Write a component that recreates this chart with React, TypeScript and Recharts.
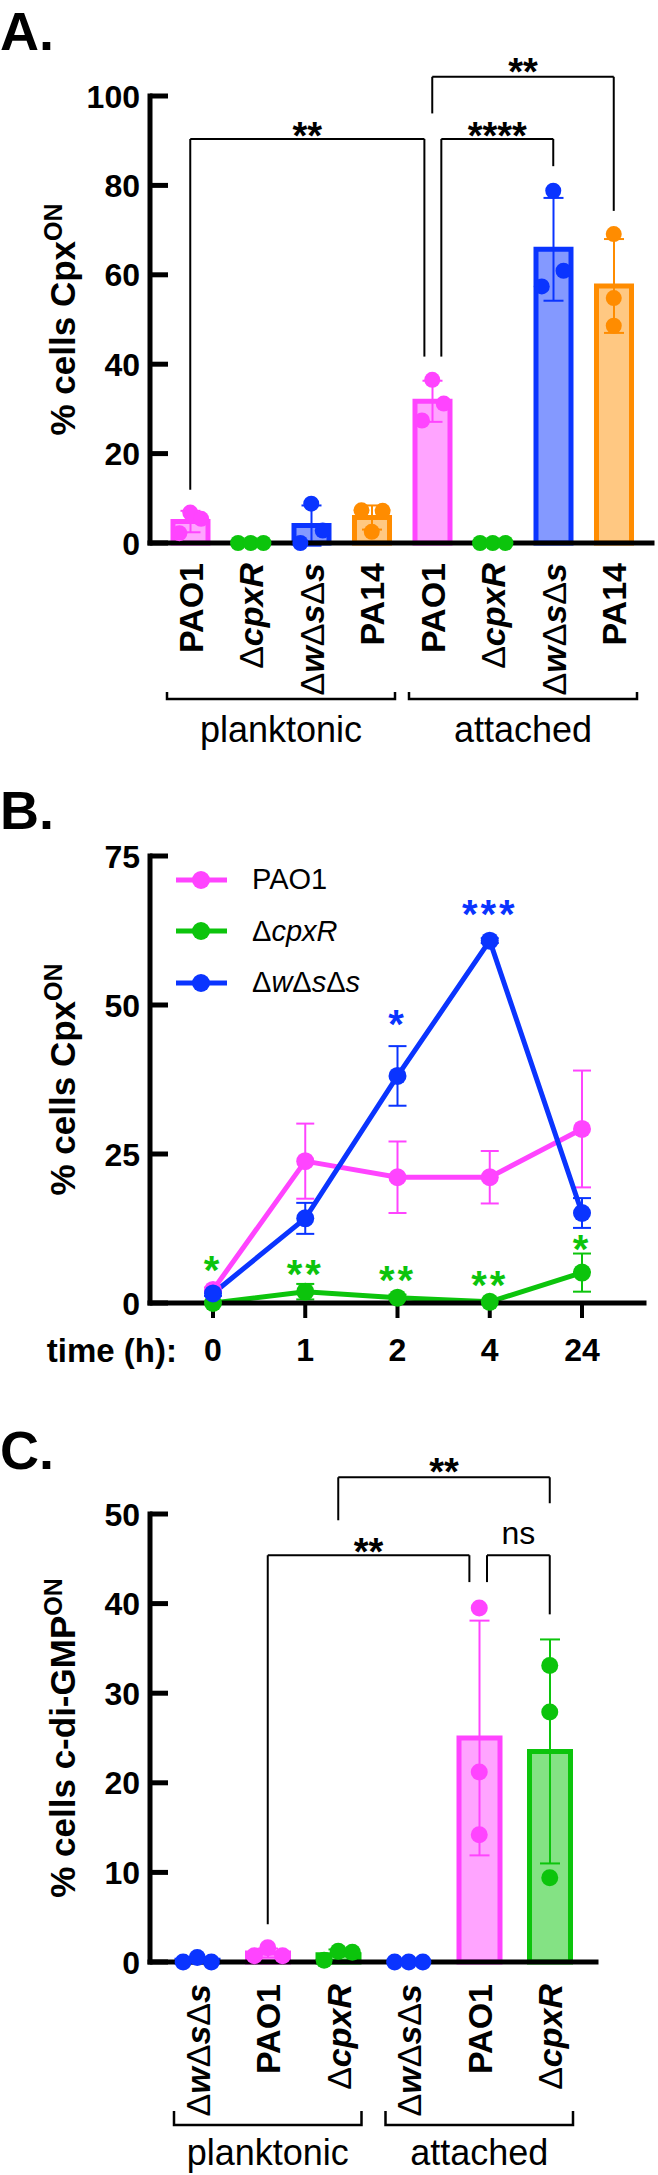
import React from "react";
import {
  ComposedChart,
  LineChart,
  Bar,
  Line,
  Scatter,
  XAxis,
  YAxis,
  ErrorBar,
  ReferenceLine,
  ReferenceDot,
  Legend,
} from "recharts";

const FONT = "'Liberation Sans', Arial, Helvetica, sans-serif";

const PINK = "#ff44ff";
const PINK_FILL = "#ffa4ff";
const GREEN = "#0cc40c";
const GREEN_FILL = "#84e284";
const BLUE = "#0a34ff";
const BLUE_FILL = "#8499ff";
const ORANGE = "#ff8c00";
const ORANGE_FILL = "#ffc882";

// ---------- A: Cpx-ON cells, planktonic vs attached ----------
const strainsA = ["PAO1", "ΔcpxR", "ΔwΔsΔs", "PA14", "PAO1", "ΔcpxR", "ΔwΔsΔs", "PA14"];
const groupsA = ["planktonic", "planktonic", "planktonic", "planktonic", "attached", "attached", "attached", "attached"];
const meanA = [4.8, 0, 3.9, 5.7, 31.7, 0, 65.7, 57.5];
const sdA = [2.4, 0, 4.5, 2.7, 4.6, 0, 11.5, 10.5];
const repsA = [
  [6.8, 5.4, 2.2],
  [0, 0, 0],
  [8.8, 2.8, 0],
  [7.3, 7.2, 2.5],
  [36.5, 31.2, 27.4],
  [0, 0, 0],
  [78.8, 60.9, 57.4],
  [69.1, 54.8, 48.6],
];
const ticksA = [0, 20, 40, 60, 80, 100];

// ---------- B: time course ----------
const timesB = ["0", "1", "2", "4", "24"];
const pao1B = [2.2, 23.8, 21.1, 21.1, 29.2];
const pao1SdB = [0.4, 6.3, 6.0, 4.4, 9.8];
const cpxRB = [0, 1.9, 0.9, 0.2, 5.1];
const cpxRSdB = [0, 1.3, 0.5, 0.2, 3.2];
const wssB = [1.6, 14.2, 38.1, 60.8, 15.1];
const wssSdB = [0.4, 2.6, 5.0, 0.4, 2.5];
const starsCpxRB = ["*", "**", "**", "**", "*"];
const starsWssB = ["", "", "*", "***", ""];
const ticksB = [0, 25, 50, 75];

// ---------- C: c-di-GMP-ON cells ----------
const strainsC = ["ΔwΔsΔs", "PAO1", "ΔcpxR", "ΔwΔsΔs", "PAO1", "ΔcpxR"];
const groupsC = ["planktonic", "planktonic", "planktonic", "attached", "attached", "attached"];
const meanC = [0.2, 1.0, 0.8, 0, 25.0, 23.5];
const sdC = [0.3, 0.5, 0.6, 0, 13.1, 12.5];
const repsC = [
  [0, 0.5, 0],
  [0.7, 1.6, 0.7],
  [0.2, 1.2, 1.1],
  [0, 0, 0],
  [39.5, 21.2, 14.2],
  [33.1, 27.9, 9.4],
];
const ticksC = [0, 10, 20, 30, 40, 50];

// where replicate dots sit inside their column (fraction of a column)
const spreadA = [
  [0, 0.18, -0.18],
  [-0.21, 0, 0.21],
  [0, 0.19, -0.18],
  [-0.17, 0.18, 0],
  [0, 0.19, -0.17],
  [-0.21, 0, 0.21],
  [0, 0.17, -0.19],
  [0, 0, 0],
];
const spreadC = [
  [-0.2, 0, 0.2],
  [-0.19, 0, 0.21],
  [-0.2, 0, 0.2],
  [-0.2, 0, 0.2],
  [0, 0, 0],
  [0, 0, 0],
];

// comparison brackets: column positions, bar-top level and leg ends (axis units)
const bracketsA = [
  { from: 0, to: 3.87, top: 90.4, fromEnd: 11.9, toEnd: 41.7, text: "**", lift: 12 },
  { from: 4.15, to: 6, top: 90.4, fromEnd: 41.7, toEnd: 84.3, text: "****", lift: 12 },
  { from: 4, to: 7, top: 104.3, fromEnd: 96.1, toEnd: 74.3, text: "**", lift: 13 },
];
const bracketsC = [
  { from: 1, to: 3.86, top: 45.4, fromEnd: 4.2, toEnd: 42.4, text: "**", lift: 12 },
  { from: 4.11, to: 5, top: 45.4, fromEnd: 42.4, toEnd: 38.8, text: "ns", lift: 20 },
  { from: 2, to: 5, top: 54.1, fromEnd: 49.3, toEnd: 51.2, text: "**", lift: 14 },
];
// height of the significance stars above each time point (axis units)
const starLevelCpxRB = [7.0, 6.4, 5.4, 4.5, 10.6];
const starLevelWssB = [0, 0, 48.3, 66.8, 0];

const strainStyle: Record<string, { key: string; stroke: string; fill: string }> = {
  PAO1: { key: "pao1", stroke: PINK, fill: PINK_FILL },
  "ΔcpxR": { key: "cpxR", stroke: GREEN, fill: GREEN_FILL },
  "ΔwΔsΔs": { key: "wss", stroke: BLUE, fill: BLUE_FILL },
  PA14: { key: "pa14", stroke: ORANGE, fill: ORANGE_FILL },
};

function barRows(strains: string[], groups: string[], mean: number[], sd: number[]) {
  return strains.map((s, i) => {
    const k = strainStyle[s].key;
    return { cat: String(i), group: groups[i], [k]: mean[i], [k + "Sd"]: sd[i] };
  });
}

function dotRows(strains: string[], reps: number[][], spread: number[][], strain: string) {
  const out: { x: number; y: number }[] = [];
  strains.forEach((s, i) => {
    if (s !== strain) return;
    reps[i].forEach((v, j) => out.push({ x: i + spread[i][j], y: v }));
  });
  return out;
}

function uniq(list: string[]) {
  return list.filter((s, i) => list.indexOf(s) === i);
}

// Δ upright, gene letters in italics
function strainSvg(name: string) {
  if (!name.startsWith("Δ")) return name;
  return name
    .split(/(Δ)/)
    .filter(Boolean)
    .map((p, i) =>
      p === "Δ" ? (
        <tspan key={i} fontWeight={400}>Δ</tspan>
      ) : (
        <tspan key={i} fontStyle="italic">{p}</tspan>
      )
    );
}

function strainHtml(name: string) {
  if (!name.startsWith("Δ")) return name;
  return name
    .split(/(Δ)/)
    .filter(Boolean)
    .map((p, i) => (p === "Δ" ? <span key={i}>Δ</span> : <i key={i}>{p}</i>));
}

// ticks point inwards, labels sit left of the axis line
const YTick = ({ x, y, payload, gap }: any) => (
  <g>
    <line x1={x + gap} x2={x + gap + 18} y1={y} y2={y} stroke="#000" strokeWidth={5} />
    <text x={x} y={y} dy="0.36em" textAnchor="end" fontFamily={FONT} fontWeight={700} fontSize={32} fill="#000">
      {payload.value}
    </text>
  </g>
);

const StrainTick = ({ x, y, payload, names, drop }: any) => (
  <text
    transform={`translate(${x},${y + drop}) rotate(-90)`}
    textAnchor="end"
    dy="0.36em"
    fontFamily={FONT}
    fontWeight={700}
    fontSize={34}
    fill="#000"
  >
    {strainSvg(names[Number(payload.value)])}
  </text>
);

const GroupTick = ({ x, y, payload, half, endTop, endBottom, textY }: any) => (
  <g>
    <path
      d={`M${x - half},${y + endTop} V${y + endBottom} H${x + half} V${y + endTop}`}
      fill="none"
      stroke="#000"
      strokeWidth={2.5}
    />
    <text x={x} y={y + textY} textAnchor="middle" fontFamily={FONT} fontSize={36} fill="#000">
      {payload.value}
    </text>
  </g>
);

const AxisTitle = ({ viewBox, x, main, sup }: any) => {
  const cy = viewBox.y + viewBox.height / 2;
  return (
    <text
      transform={`translate(${x},${cy}) rotate(-90)`}
      textAnchor="middle"
      fontFamily={FONT}
      fontWeight={700}
      fontSize={35}
      fill="#000"
    >
      {main}
      <tspan fontSize={25} dy={-13}>{sup}</tspan>
    </text>
  );
};

const Mark = ({ cx, cy, text, color, size, lift, spacing = 0 }: any) => {
  const stars = text.startsWith("*");
  return (
    <text
      x={cx}
      y={cy - lift}
      dy={stars ? "0.57em" : "0.26em"}
      textAnchor="middle"
      fontFamily={FONT}
      fontWeight={stars ? 700 : 400}
      fontSize={size}
      letterSpacing={spacing}
      fill={color}
    >
      {text}
    </text>
  );
};

function bracketElements(list: typeof bracketsA, prefix: string) {
  const line = { stroke: "#000", strokeWidth: 2, xAxisId: "num", ifOverflow: "visible" as const };
  return list.flatMap((b, i) => [
    <ReferenceLine key={`${prefix}h${i}`} {...line} segment={[{ x: b.from, y: b.top }, { x: b.to, y: b.top }]} />,
    <ReferenceLine key={`${prefix}l${i}`} {...line} segment={[{ x: b.from, y: b.top }, { x: b.from, y: b.fromEnd }]} />,
    <ReferenceLine key={`${prefix}r${i}`} {...line} segment={[{ x: b.to, y: b.top }, { x: b.to, y: b.toEnd }]} />,
    <ReferenceDot
      key={`${prefix}t${i}`}
      xAxisId="num"
      x={(b.from + b.to) / 2}
      y={b.top}
      r={0}
      ifOverflow="visible"
      shape={(p: any) => (
        <Mark cx={p.cx} cy={p.cy} text={b.text} color="#000" size={b.text === "ns" ? 32 : 38} lift={b.lift} />
      )}
    />,
  ]);
}

interface BarPanelProps {
  strains: string[];
  groups: string[];
  mean: number[];
  sd: number[];
  reps: number[][];
  spread: number[][];
  brackets: typeof bracketsA;
  ticks: number[];
  width: number;
  height: number;
  margin: { top: number; right: number; bottom: number; left: number };
  pad: { left: number; right: number };
  barSize: number;
  dotR: number;
  labelDrop: number;
  groupInset: number;
  groupGeom: { endTop: number; endBottom: number; textY: number; height: number };
  title: { x: number; main: string; sup: string };
}

const BarPanel = (p: BarPanelProps) => {
  const rows = barRows(p.strains, p.groups, p.mean, p.sd);
  const present = uniq(p.strains);
  const n = p.strains.length;
  const plotW = p.width - p.margin.left - p.margin.right - 150;
  const band = (plotW - p.pad.left - p.pad.right) / n;
  const perGroup = n / uniq(p.groups).length;
  const half = (band * perGroup) / 2 - p.groupInset;
  const yMax = p.ticks[p.ticks.length - 1];

  return (
    <ComposedChart width={p.width} height={p.height} data={rows} margin={p.margin}>
      <XAxis
        xAxisId="cat"
        dataKey="cat"
        height={145}
        padding={p.pad}
        interval={0}
        axisLine={{ stroke: "#000", strokeWidth: 5, strokeLinecap: "square" }}
        tickLine={false}
        tickSize={0}
        tickMargin={0}
        tick={<StrainTick names={p.strains} drop={p.labelDrop} />}
      />
      <XAxis
        xAxisId="grp"
        dataKey="group"
        allowDuplicatedCategory={false}
        height={p.groupGeom.height}
        padding={p.pad}
        interval={0}
        axisLine={false}
        tickLine={false}
        tickSize={0}
        tickMargin={0}
        tick={<GroupTick half={half} endTop={p.groupGeom.endTop} endBottom={p.groupGeom.endBottom} textY={p.groupGeom.textY} />}
      />
      <XAxis xAxisId="num" type="number" dataKey="x" domain={[-0.5, n - 0.5]} padding={p.pad} allowDataOverflow hide />
      <YAxis
        type="number"
        width={150}
        domain={[0, yMax]}
        ticks={p.ticks}
        interval={0}
        axisLine={{ stroke: "#000", strokeWidth: 5, strokeLinecap: "square" }}
        tickLine={false}
        tickSize={0}
        tickMargin={10}
        tick={<YTick gap={10} />}
        label={<AxisTitle x={p.title.x} main={p.title.main} sup={p.title.sup} />}
      />
      {present.map((s) => {
        const st = strainStyle[s];
        return (
          <Bar
            key={st.key}
            xAxisId="cat"
            dataKey={st.key}
            stackId="cols"
            barSize={p.barSize}
            fill={st.fill}
            stroke={st.stroke}
            strokeWidth={5}
            isAnimationActive={false}
          >
            <ErrorBar dataKey={st.key + "Sd"} width={10} strokeWidth={2} stroke={st.stroke} direction="y" />
          </Bar>
        );
      })}
      {present.map((s) => {
        const st = strainStyle[s];
        return (
          <Scatter
            key={"dots-" + st.key}
            xAxisId="num"
            data={dotRows(p.strains, p.reps, p.spread, s)}
            dataKey="y"
            isAnimationActive={false}
            shape={(d: any) => <circle cx={d.cx} cy={d.cy} r={p.dotR} fill={st.stroke} />}
          />
        );
      })}
      {bracketElements(p.brackets, "b")}
    </ComposedChart>
  );
};

const timeRows = timesB.map((t, i) => ({
  t,
  pao1: pao1B[i],
  pao1Sd: pao1SdB[i],
  cpxR: cpxRB[i],
  cpxRSd: cpxRSdB[i],
  wss: wssB[i],
  wssSd: wssSdB[i],
}));

const LegendB = ({ payload }: any) => (
  <div style={{ fontFamily: FONT }}>
    {(payload || []).map((e: any) => (
      <div key={e.value} style={{ display: "flex", alignItems: "center", height: 51.5 }}>
        <svg width={54} height={22}>
          <line x1={1} x2={52} y1={11} y2={11} stroke={e.color} strokeWidth={5} />
          <circle cx={26} cy={11} r={9} fill={e.color} />
        </svg>
        <span style={{ marginLeft: 23, fontSize: 29, color: "#000" }}>{strainHtml(e.value)}</span>
      </div>
    ))}
  </div>
);

const lineSeries = [
  { key: "pao1", name: "PAO1", color: PINK },
  { key: "cpxR", name: "ΔcpxR", color: GREEN },
  { key: "wss", name: "ΔwΔsΔs", color: BLUE },
];

const TimePanel = () => (
  <LineChart width={658} height={620} data={timeRows} margin={{ top: 76, right: 14, bottom: 3, left: 0 }}>
    <XAxis
      dataKey="t"
      height={94}
      padding={{ left: 63, right: 62 }}
      interval={0}
      axisLine={{ stroke: "#000", strokeWidth: 5, strokeLinecap: "square" }}
      tickLine={{ stroke: "#000", strokeWidth: 4 }}
      tickSize={15}
      tickMargin={20}
      tick={{ fontSize: 32, fontWeight: 700, fill: "#000", fontFamily: FONT }}
      label={{ value: "time (h):", position: "left", offset: -27, fontSize: 33, fontWeight: 700, fill: "#000", fontFamily: FONT }}
    />
    <YAxis
      type="number"
      width={150}
      domain={[0, 75]}
      ticks={ticksB}
      interval={0}
      axisLine={{ stroke: "#000", strokeWidth: 5, strokeLinecap: "square" }}
      tickLine={false}
      tickSize={0}
      tickMargin={10}
      tick={<YTick gap={10} />}
      label={<AxisTitle x={80} main="% cells Cpx" sup="ON" />}
    />
    <Legend
      layout="vertical"
      align="center"
      verticalAlign="middle"
      content={<LegendB />}
      wrapperStyle={{ left: 175, top: 74, width: "auto" }}
    />
    {lineSeries.map((s) => (
      <Line
        key={s.key}
        dataKey={s.key}
        name={s.name}
        stroke={s.color}
        strokeWidth={5}
        dot={{ r: 9, fill: s.color, stroke: s.color, strokeWidth: 0 }}
        isAnimationActive={false}
      >
        <ErrorBar dataKey={s.key + "Sd"} width={9} strokeWidth={2} stroke={s.color} direction="y" />
      </Line>
    ))}
    {timesB.map((t, i) =>
      starsCpxRB[i] ? (
        <ReferenceDot
          key={"g" + t}
          x={t}
          y={starLevelCpxRB[i]}
          r={0}
          ifOverflow="visible"
          shape={(p: any) => (
            <Mark cx={p.cx} cy={p.cy} text={starsCpxRB[i]} color={GREEN} size={40} lift={0} spacing={3} />
          )}
        />
      ) : null
    )}
    {timesB.map((t, i) =>
      starsWssB[i] ? (
        <ReferenceDot
          key={"b" + t}
          x={t}
          y={starLevelWssB[i]}
          r={0}
          ifOverflow="visible"
          shape={(p: any) => (
            <Mark cx={p.cx} cy={p.cy} text={starsWssB[i]} color={BLUE} size={40} lift={0} spacing={3} />
          )}
        />
      ) : null
    )}
  </LineChart>
);

const PanelLetter = ({ x, y, children }: any) => (
  <text x={x} y={y} fontFamily={FONT} fontWeight={700} fontSize={54} fill="#000">
    {children}
  </text>
);

export default function App() {
  return (
    <div style={{ position: "absolute", left: 0, top: 0, width: 658, height: 2175, background: "#fff", fontFamily: FONT }}>
      <div style={{ position: "absolute", left: 0, top: 0 }}>
        <BarPanel
          strains={strainsA}
          groups={groupsA}
          mean={meanA}
          sd={sdA}
          reps={repsA}
          spread={spreadA}
          brackets={bracketsA}
          ticks={ticksA}
          width={658}
          height={770}
          margin={{ top: 96, right: 6, bottom: 7, left: 0 }}
          pad={{ left: 10, right: 8 }}
          barSize={35}
          dotR={8}
          labelDrop={20}
          groupInset={7}
          groupGeom={{ endTop: 4, endBottom: 11, textY: 54, height: 75 }}
          title={{ x: 71, main: "% cells Cpx", sup: "ON" }}
        />
      </div>
      <div style={{ position: "absolute", left: 0, top: 780 }}>
        <TimePanel />
      </div>
      <div style={{ position: "absolute", left: 0, top: 1440 }}>
        <BarPanel
          strains={strainsC}
          groups={groupsC}
          mean={meanC}
          sd={sdC}
          reps={repsC}
          spread={spreadC}
          brackets={bracketsC}
          ticks={ticksC}
          width={658}
          height={735}
          margin={{ top: 74, right: 62, bottom: 0, left: 0 }}
          pad={{ left: 12, right: 11 }}
          barSize={41}
          dotR={8.5}
          labelDrop={22}
          groupInset={12}
          groupGeom={{ endTop: 4, endBottom: 18, textY: 58, height: 68 }}
          title={{ x: 78, main: "% cells c-di-GMP", sup: "ON" }}
        />
      </div>
      <svg width={658} height={2175} style={{ position: "absolute", left: 0, top: 0, pointerEvents: "none" }}>
        <PanelLetter x={0} y={50}>A.</PanelLetter>
        <PanelLetter x={0} y={829}>B.</PanelLetter>
        <PanelLetter x={0} y={1469}>C.</PanelLetter>
      </svg>
    </div>
  );
}
